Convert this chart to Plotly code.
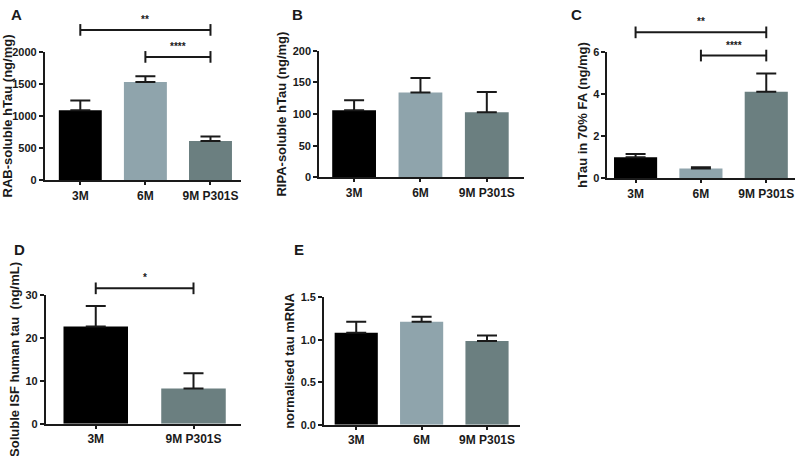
import plotly.graph_objects as go

# ---------------- data ----------------
cats3 = ["3M", "6M", "9M P301S"]
cats2 = ["3M", "9M P301S"]

rab_mean = [1090, 1530, 610]
rab_err = [150, 90, 70]

ripa_mean = [106, 134, 103]
ripa_err = [16, 23, 32]

fa_mean = [1.0, 0.47, 4.1]
fa_err = [0.15, 0.05, 0.87]

isf_mean = [22.7, 8.2]
isf_err = [4.8, 3.6]

mrna_mean = [1.08, 1.21, 0.985]
mrna_err = [0.13, 0.06, 0.065]

c_black = "#000000"
c_light = "#8fa4ac"
c_dark = "#6b7f80"
colors3 = [c_black, c_light, c_dark]
colors2 = [c_black, c_dark]

W, H = 800, 456

def px(x):
    return x / W

def py(y):
    return 1 - y / H

panels = [
    dict(cats=cats3, mean=rab_mean, err=rab_err, colors=colors3,
         xd=(43, 240), yd=(47, 179), xr=(-0.544, 2.475), yr=(0, 2000), dtick=500, fmt="",
         title="RAB-soluble hTau (ng/mg)", letter="A", lpos=(15, 9), standoff=3),
    dict(cats=cats3, mean=ripa_mean, err=ripa_err, colors=colors3,
         xd=(318, 523), yd=(46, 176), xr=(-0.526, 2.556), yr=(0, 200), dtick=50, fmt="",
         title="RIPA-soluble hTau (ng/mg)", letter="B", lpos=(296, 9), standoff=3),
    dict(cats=cats3, mean=fa_mean, err=fa_err, colors=colors3,
         xd=(607, 795), yd=(47, 177), xr=(-0.43, 2.44), yr=(0, 6), dtick=2, fmt="",
         title="hTau in 70% FA (ng/mg)", letter="C", lpos=(576, 9), standoff=3),
    dict(cats=cats2, mean=isf_mean, err=isf_err, colors=colors2,
         xd=(44, 240), yd=(297, 429), xr=(-0.51, 1.49), yr=(0, 30), dtick=10, fmt="",
         title="Soluble ISF human tau  (ng/mL)", letter="D", lpos=(18, 250), standoff=3),
    dict(cats=cats3, mean=mrna_mean, err=mrna_err, colors=colors3,
         xd=(323, 519), yd=(299, 430), xr=(-0.49, 2.5), yr=(0, 1.5), dtick=0.5, fmt=".1f",
         title="normalised tau mRNA", letter="E", lpos=(298, 250), standoff=3),
]

# significance brackets: (panel index, from category index, to category index, line y (data), label)
sig = [
    (0, 0, 2, 2340, "**"),
    (0, 1, 2, 1920, "****"),
    (2, 0, 2, 6.92, "**"),
    (2, 1, 2, 5.82, "****"),
    (3, 0, 1, 31.6, "*"),
]

fig = go.Figure()
axis_color = "#1a1a1a"
font_family = "Liberation Sans, Arial, sans-serif"

shapes = []
annotations = []

for i, p in enumerate(panels):
    n = i + 1
    xa = "x" if n == 1 else f"x{n}"
    ya = "y" if n == 1 else f"y{n}"
    fig.add_trace(go.Bar(
        x=p["cats"], y=p["mean"],
        marker=dict(color=p["colors"], line=dict(width=0)),
        width=0.66,
        error_y=dict(type="data", array=p["err"], arrayminus=[0] * len(p["err"]),
                     symmetric=False, thickness=2, width=10, color=axis_color),
        xaxis=xa, yaxis=ya, showlegend=False, hoverinfo="skip",
    ))
    xkey = "xaxis" if n == 1 else f"xaxis{n}"
    ykey = "yaxis" if n == 1 else f"yaxis{n}"
    fig.update_layout(**{
        xkey: dict(domain=[px(p["xd"][0]), px(p["xd"][1])], anchor=ya,
                   type="category", range=list(p["xr"]),
                   showline=True, linewidth=2, linecolor=axis_color,
                   ticks="outside", ticklen=3, tickwidth=2, tickcolor=axis_color,
                   showgrid=False, zeroline=False, fixedrange=True,
                   tickfont=dict(family=font_family, size=12, color=axis_color, weight="bold")),
        ykey: dict(domain=[py(p["yd"][1]), py(p["yd"][0])], anchor=xa,
                   range=list(p["yr"]), dtick=p["dtick"], tick0=0, tickformat=p["fmt"],
                   showline=True, linewidth=2, linecolor=axis_color,
                   ticks="outside", ticklen=4, tickwidth=2, tickcolor=axis_color,
                   showgrid=False, zeroline=False, fixedrange=True,
                   tickfont=dict(family=font_family, size=11, color=axis_color, weight="bold"),
                   title=dict(text=p["title"], standoff=p["standoff"],
                              font=dict(family=font_family, size=13, color=axis_color, weight="bold"))),
    })
    annotations.append(dict(text=p["letter"], x=px(p["lpos"][0]), y=py(p["lpos"][1]),
                            xref="paper", yref="paper", showarrow=False,
                            xanchor="center", yanchor="middle",
                            font=dict(family=font_family, size=15, color=axis_color, weight="bold")))

for (pi, a, b, yv, label) in sig:
    p = panels[pi]
    n = pi + 1
    xa = "x" if n == 1 else f"x{n}"
    ya = "y" if n == 1 else f"y{n}"
    r0, r1 = p["xr"]
    fa = (a - r0) / (r1 - r0)
    fb = (b - r0) / (r1 - r0)
    fy = yv / p["yr"][1]
    hpx = p["yd"][1] - p["yd"][0]
    cap = 6 / hpx
    ref = dict(xref=f"{xa} domain", yref=f"{ya} domain")
    line = dict(color=axis_color, width=2)
    shapes.append(dict(type="line", x0=fa, x1=fb, y0=fy, y1=fy, line=line, **ref))
    shapes.append(dict(type="line", x0=fa, x1=fa, y0=fy - cap, y1=fy + cap, line=line, **ref))
    shapes.append(dict(type="line", x0=fb, x1=fb, y0=fy - cap, y1=fy + cap, line=line, **ref))
    annotations.append(dict(text=label, x=(fa + fb) / 2, y=fy + 3 / hpx,
                            xref=f"{xa} domain", yref=f"{ya} domain", showarrow=False,
                            xanchor="center", yanchor="bottom",
                            font=dict(family=font_family, size=10, color=axis_color, weight="bold")))

fig.update_layout(
    width=W, height=H,
    margin=dict(l=0, r=0, t=0, b=0),
    paper_bgcolor="white", plot_bgcolor="white",
    shapes=shapes, annotations=annotations,
    font=dict(family=font_family, color=axis_color),
)

fig.write_html("out.html", config={"displayModeBar": False, "staticPlot": True},
               post_script="document.body.style.margin='0px';document.body.style.overflow='hidden';")
